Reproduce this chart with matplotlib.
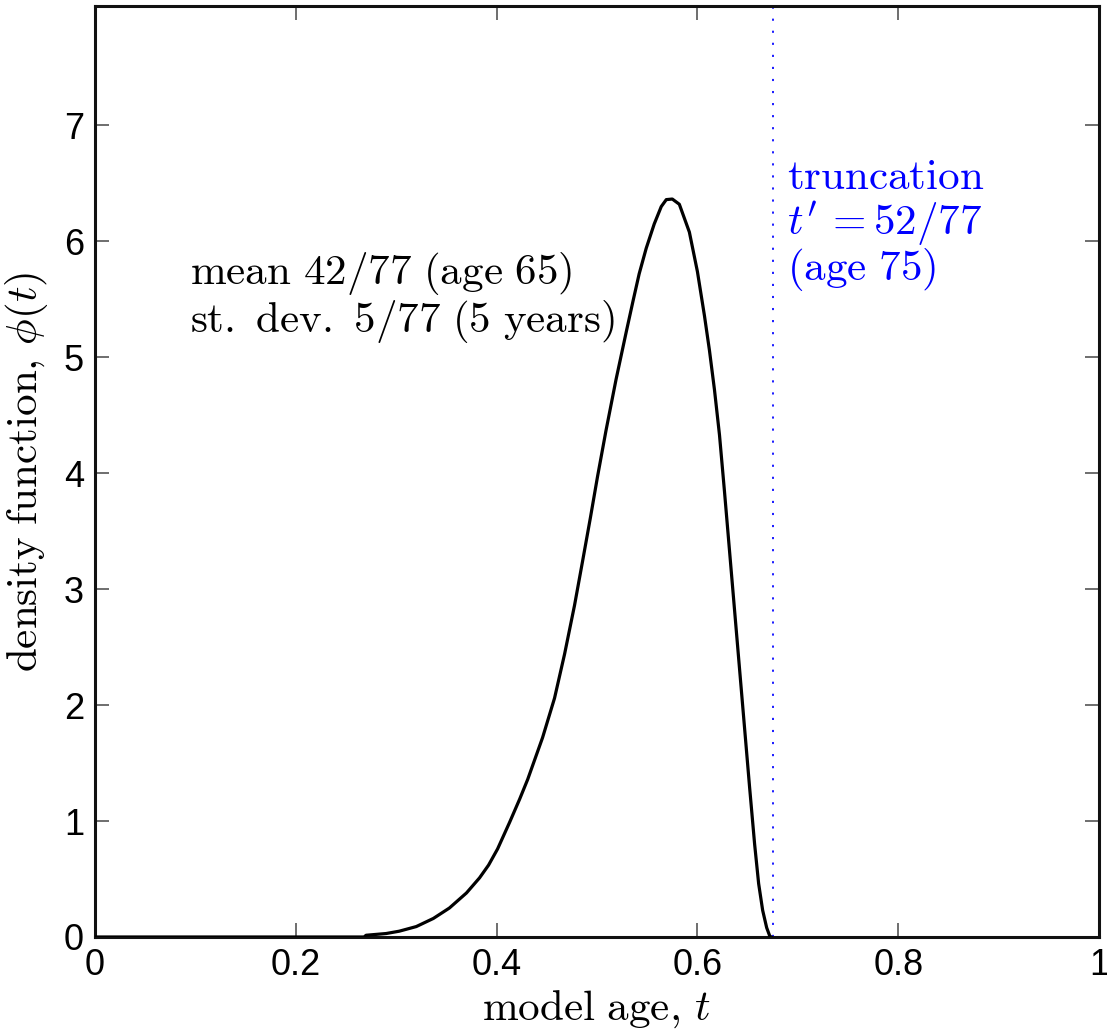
import matplotlib
matplotlib.use("Agg")
import matplotlib.pyplot as plt

plt.rcParams['mathtext.fontset'] = 'cm'
plt.rcParams['font.family'] = ['Liberation Sans', 'DejaVu Sans']

# density curve
t_vals = [0.0, 0.015, 0.1, 0.2, 0.268, 0.270, 0.29, 0.303, 0.32, 0.337, 0.353,
          0.370, 0.383, 0.392, 0.401, 0.413, 0.423, 0.431, 0.4458, 0.4577, 0.4677,
          0.4776, 0.4856, 0.4935, 0.5005, 0.509, 0.519, 0.5294, 0.536, 0.542, 0.549,
          0.557, 0.564, 0.569, 0.575, 0.582, 0.592, 0.600, 0.607, 0.612, 0.617,
          0.622, 0.627, 0.632, 0.637, 0.642, 0.647, 0.652, 0.657, 0.661, 0.665,
          0.669, 0.672, 0.6735]
phi_vals = [0.0, 0.0, 0.0, 0.0, 0.0, 0.015, 0.03, 0.05, 0.09, 0.16, 0.25,
            0.38, 0.51, 0.62, 0.76, 0.99, 1.19, 1.36, 1.72, 2.06, 2.44,
            2.86, 3.24, 3.62, 3.97, 4.37, 4.81, 5.23, 5.49, 5.72, 5.94,
            6.15, 6.30, 6.36, 6.365, 6.32, 6.08, 5.74, 5.36, 5.06, 4.72,
            4.33, 3.84, 3.33, 2.82, 2.31, 1.80, 1.29, 0.80, 0.46, 0.23,
            0.08, 0.01, 0.0]
truncation_t = 52 / 77

x_ticks = [0, 0.2, 0.4, 0.6, 0.8, 1]
x_tick_labels = ['0', '0.2', '0.4', '0.6', '0.8', '1']
y_ticks = [0, 1, 2, 3, 4, 5, 6, 7]
y_tick_labels = ['0', '1', '2', '3', '4', '5', '6', '7']

fig = plt.figure(figsize=(11.07, 10.33), dpi=100)
ax = fig.add_axes([95 / 1107, 96 / 1033, (1099 - 95) / 1107, (937 - 6) / 1033])

ax.plot(t_vals, phi_vals, color='black', lw=2.3, zorder=3)
ax.axvline(truncation_t, color='#1a1aff', lw=1.4, linestyle=(0, (1.1, 5.1)), zorder=2)

ax.set_xlim(0, 1)
ax.set_ylim(0, 8.03)
ax.set_xticks(x_ticks)
ax.set_xticklabels(x_tick_labels)
ax.set_yticks(y_ticks)
ax.set_yticklabels(y_tick_labels)
ax.tick_params(direction='in', length=10, width=1.2, color='#555555',
               labelsize=26, top=True, right=True, pad=8)
for sp in ax.spines.values():
    sp.set_linewidth(2.2)
    sp.set_color('#111111')

ax.set_xlabel(r'$\mathrm{model\ age,}\,t$', fontsize=31, labelpad=4)
ax.set_ylabel(r'$\mathrm{density\ function,}\,\phi(t)$', fontsize=31, labelpad=10)

ax.text(0.0945, 5.635, r'$\mathrm{mean\ 42/77\ (age\ 65)}$', fontsize=31,
        ha='left', va='baseline', color='black')
ax.text(0.0945, 5.22, r'$\mathrm{st.\ dev.\ 5/77\ (5\ years)}$', fontsize=31,
        ha='left', va='baseline', color='black')

ax.text(0.6896, 6.454, r'$\mathrm{truncation}$', fontsize=31,
        ha='left', va='baseline', color='blue')
ax.text(0.6896, 6.058, r"$t'\,=52/77$", fontsize=31,
        ha='left', va='baseline', color='blue')
ax.text(0.6896, 5.67, r'$\mathrm{(age\ 75)}$', fontsize=31,
        ha='left', va='baseline', color='blue')

fig.savefig('out.png', dpi=100)
